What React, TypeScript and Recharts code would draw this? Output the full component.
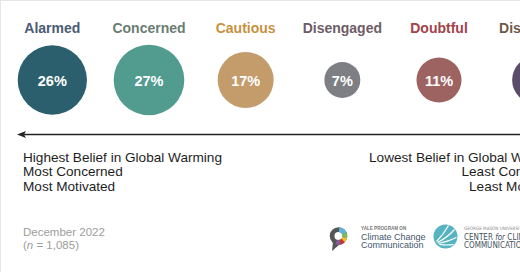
import { ScatterChart, Scatter, XAxis, YAxis, ZAxis } from 'recharts';

// Global Warming's Six Americas, December 2022
const segments = ['Alarmed', 'Concerned', 'Cautious', 'Disengaged', 'Doubtful', 'Dismissive'];
const shares = [26, 27, 17, 7, 11, 12];
const circleColors = ['#2b5f6e', '#519b8f', '#c49c6b', '#7d7f85', '#9d6361', '#5c4c6c'];
const labelColors = ['#4b5b73', '#6a7d72', '#c8913f', '#6e5c68', '#a3424b', '#6e5a48'];
const leftNotes = ['Highest Belief in Global Warming', 'Most Concerned', 'Most Motivated'];
const rightNotes = ['Lowest Belief in Global Warming', 'Least Concerned', 'Least Motivated'];

const data = segments.map((name, i) => ({ name, row: 1, share: shares[i] }));

const FONT = '"Liberation Sans", Arial, Helvetica, sans-serif';
const NARROW = '"Liberation Sans Narrow", "DejaVu Sans Condensed", sans-serif';

function CategoryTick(props: any) {
  const { x, y, payload } = props;
  const i = segments.indexOf(payload.value);
  return (
    <text x={x} y={y} textAnchor="middle" fill={labelColors[i]} fontSize={14} fontWeight="bold" fontFamily={FONT}>
      {payload.value}
    </text>
  );
}

function Bubble(props: any) {
  const { cx, cy, width, size, payload } = props;
  const r = width ? width / 2 : Math.sqrt(size / Math.PI);
  const i = segments.indexOf(payload.name);
  return (
    <g>
      <circle cx={cx} cy={cy} r={r} fill={circleColors[i]} />
      <text x={cx} y={cy} dy={5.5} textAnchor="middle" fill="#fff" fontSize={14.5} fontWeight="bold" fontFamily={FONT}>
        {payload.share}%
      </text>
    </g>
  );
}

function arc(cx: number, cy: number, r: number, start: number, end: number, color: string, w: number) {
  const c = 2 * Math.PI * r;
  const len = ((end - start) / 360) * c;
  return (
    <circle
      key={color + start}
      cx={cx}
      cy={cy}
      r={r}
      fill="none"
      stroke={color}
      strokeWidth={w}
      strokeDasharray={`${len} ${c}`}
      transform={`rotate(${start} ${cx} ${cy})`}
    />
  );
}

function Logos() {
  const yx = 337.5;
  const yy = 235;
  const gx = 444.5;
  const gy = 235.5;
  return (
    <g>
      {/* Yale program logo */}
      <circle cx={yx} cy={yy} r={6.4} fill="none" stroke="#555658" strokeWidth={4.8} />
      <path d={`M${yx - 5.5} ${yy + 5.5} L${yx - 6.5} ${yy + 15} L${yx + 1} ${yy + 8.5} Z`} fill="#555658" />
      {arc(yx, yy, 6.4, -85, -25, '#5fb3d6', 4.8)}
      {arc(yx, yy, 6.4, -25, 15, '#7dbb55', 4.8)}
      {arc(yx, yy, 6.4, 15, 45, '#f2c12e', 4.8)}
      {arc(yx, yy, 6.4, 45, 75, '#c8372d', 4.8)}
      {arc(yx, yy, 6.4, 75, 110, '#8a5a9c', 4.8)}
      <text x={360} y={228.5} fontSize={4.6} fill="#777" fontFamily={FONT} fontWeight="bold">YALE PROGRAM ON</text>
      <text x={360} y={238.5} fontSize={9} fill="#44566a" fontFamily={FONT}>Climate Change</text>
      <text x={360} y={247} fontSize={9} fill="#44566a" fontFamily={FONT}>Communication</text>

      {/* George Mason center logo */}
      <circle cx={gx} cy={gy} r={12} fill="#56b4c0" />
      <path d={`M${gx - 9} ${gy + 5} Q${gx - 2} ${gy - 2} ${gx + 3} ${gy - 11}`} stroke="#fff" strokeWidth={1.2} fill="none" />
      <path d={`M${gx - 8} ${gy + 6} Q${gx + 2} ${gy + 1} ${gx + 9} ${gy - 7}`} stroke="#fff" strokeWidth={1.2} fill="none" />
      <path d={`M${gx - 7} ${gy + 7} Q${gx + 3} ${gy + 5} ${gx + 11} ${gy + 1}`} stroke="#fff" strokeWidth={1.2} fill="none" />
      <path d={`M${gx - 6} ${gy + 8} Q${gx + 2} ${gy + 9} ${gx + 8} ${gy + 8}`} stroke="#fff" strokeWidth={1.2} fill="none" />
      <text x={463} y={229} fontSize={4.6} fill="#888" fontFamily={NARROW}>GEORGE MASON UNIVERSITY</text>
      <text x={463} y={238.5} fontSize={8} fill="#44525e" fontFamily={NARROW}>
        CENTER <tspan fontStyle="italic">for</tspan> CLIMATE CHANGE
      </text>
      <text x={463} y={246.5} fontSize={8} fill="#44525e" fontFamily={NARROW}>COMMUNICATION</text>
    </g>
  );
}

export default function App() {
  return (
    <div
      style={{
        position: 'absolute',
        left: 0,
        top: 0,
        width: 520,
        height: 272,
        overflow: 'hidden',
        background: '#fff',
        borderTop: '1px solid #e6e6e6',
        borderLeft: '1px solid #e6e6e6',
        boxSizing: 'border-box',
      }}
    >
      <ScatterChart width={590} height={272} margin={{ top: 0, right: 7, left: 3, bottom: 154 }}>
        <XAxis
          dataKey="name"
          type="category"
          orientation="top"
          height={40}
          axisLine={false}
          tickLine={false}
          interval={0}
          tick={<CategoryTick />}
        />
        <YAxis dataKey="row" type="number" domain={[0, 2]} hide />
        <ZAxis dataKey="share" type="number" domain={[0, 27]} range={[0, 3915]} />
        <Scatter data={data} shape={<Bubble />} isAnimationActive={false} />

        {/* direction arrow */}
        <line x1={20} y1={133.5} x2={580} y2={133.5} stroke="#222" strokeWidth={1.3} />
        <path d="M16 133.5 L25 130 L23 133.5 L25 137 Z" fill="#222" />

        {leftNotes.map((t, i) => (
          <text key={t} x={22} y={160.5 + i * 14.5} fontSize={13.6} fill="#1e1e1e" fontFamily={FONT}>
            {t}
          </text>
        ))}
        {rightNotes.map((t, i) => (
          <text key={t} x={564} y={160.5 + i * 14.5} fontSize={13.6} fill="#1e1e1e" fontFamily={FONT} textAnchor="end">
            {t}
          </text>
        ))}

        <text x={22} y={234.5} fontSize={11.5} fill="#9d9d9d" fontFamily={FONT}>December 2022</text>
        <text x={22} y={247.5} fontSize={11.5} fill="#9d9d9d" fontFamily={FONT}>
          (<tspan fontStyle="italic">n</tspan> = 1,085)
        </text>

        <Logos />
      </ScatterChart>
    </div>
  );
}
